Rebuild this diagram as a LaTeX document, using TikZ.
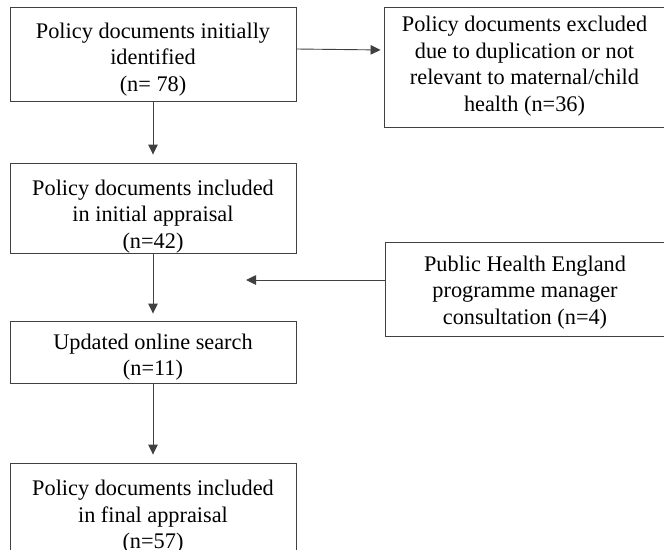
\documentclass[tikz,border=0pt]{standalone}
\usepackage{fontspec}
\setmainfont{Liberation Serif}
\usetikzlibrary{arrows.meta}
\newcommand{\boxtext}[2]{\raisebox{-#1pt}[\height][\depth]{\begin{tabular}{@{}c@{}}#2\end{tabular}}}
\begin{document}
\begin{tikzpicture}[x=1pt,y=-1pt,
  box/.style={draw=black!75,line width=0.9pt,rectangle,inner sep=0pt,
    font=\fontsize{22.3}{26.6}\selectfont},
  arr/.style={draw=black!75,line width=0.9pt,-{Triangle[length=10pt,width=9.5pt]}}]
\useasboundingbox (0,0) rectangle (664,549);
\node[box,minimum width=286,minimum height=94] (b1) at (153,54)
  {\boxtext{5.5}{Policy documents initially\\identified\\(n= 78)}};
\node[box,minimum width=281,minimum height=120] (b2) at (524.5,67)
  {\boxtext{-1}{Policy documents excluded\\due to duplication or not\\relevant to maternal/child\\health (n=36)}};
\node[box,minimum width=286,minimum height=90] (b3) at (153,208)
  {\boxtext{8.5}{Policy documents included\\in initial appraisal\\(n=42)}};
\node[box,minimum width=280,minimum height=94] (b4) at (525,289)
  {\boxtext{3.5}{Public Health England\\programme manager\\consultation (n=4)}};
\node[box,minimum width=286,minimum height=62] (b5) at (153,352)
  {\boxtext{5}{Updated online search\\(n=11)}};
\node[box,minimum width=286,minimum height=106] (b6) at (153,516)
  {\boxtext{1}{Policy documents included\\in final appraisal\\(n=57)}};
\coordinate (c1) at (246,280);
\draw[arr,shorten >=3pt] (b1.east |- 0,49) -- (b2.west |- 0,50);
\draw[arr,shorten >=8pt] (b1.south) -- (b3.north);
\draw[arr,shorten >=7pt] (b3.south) -- (b5.north);
\draw[arr,shorten >=8pt] (b5.south) -- (b6.north);
\draw[arr] (b4.west |- c1) -- (c1);
\end{tikzpicture}
\end{document}
